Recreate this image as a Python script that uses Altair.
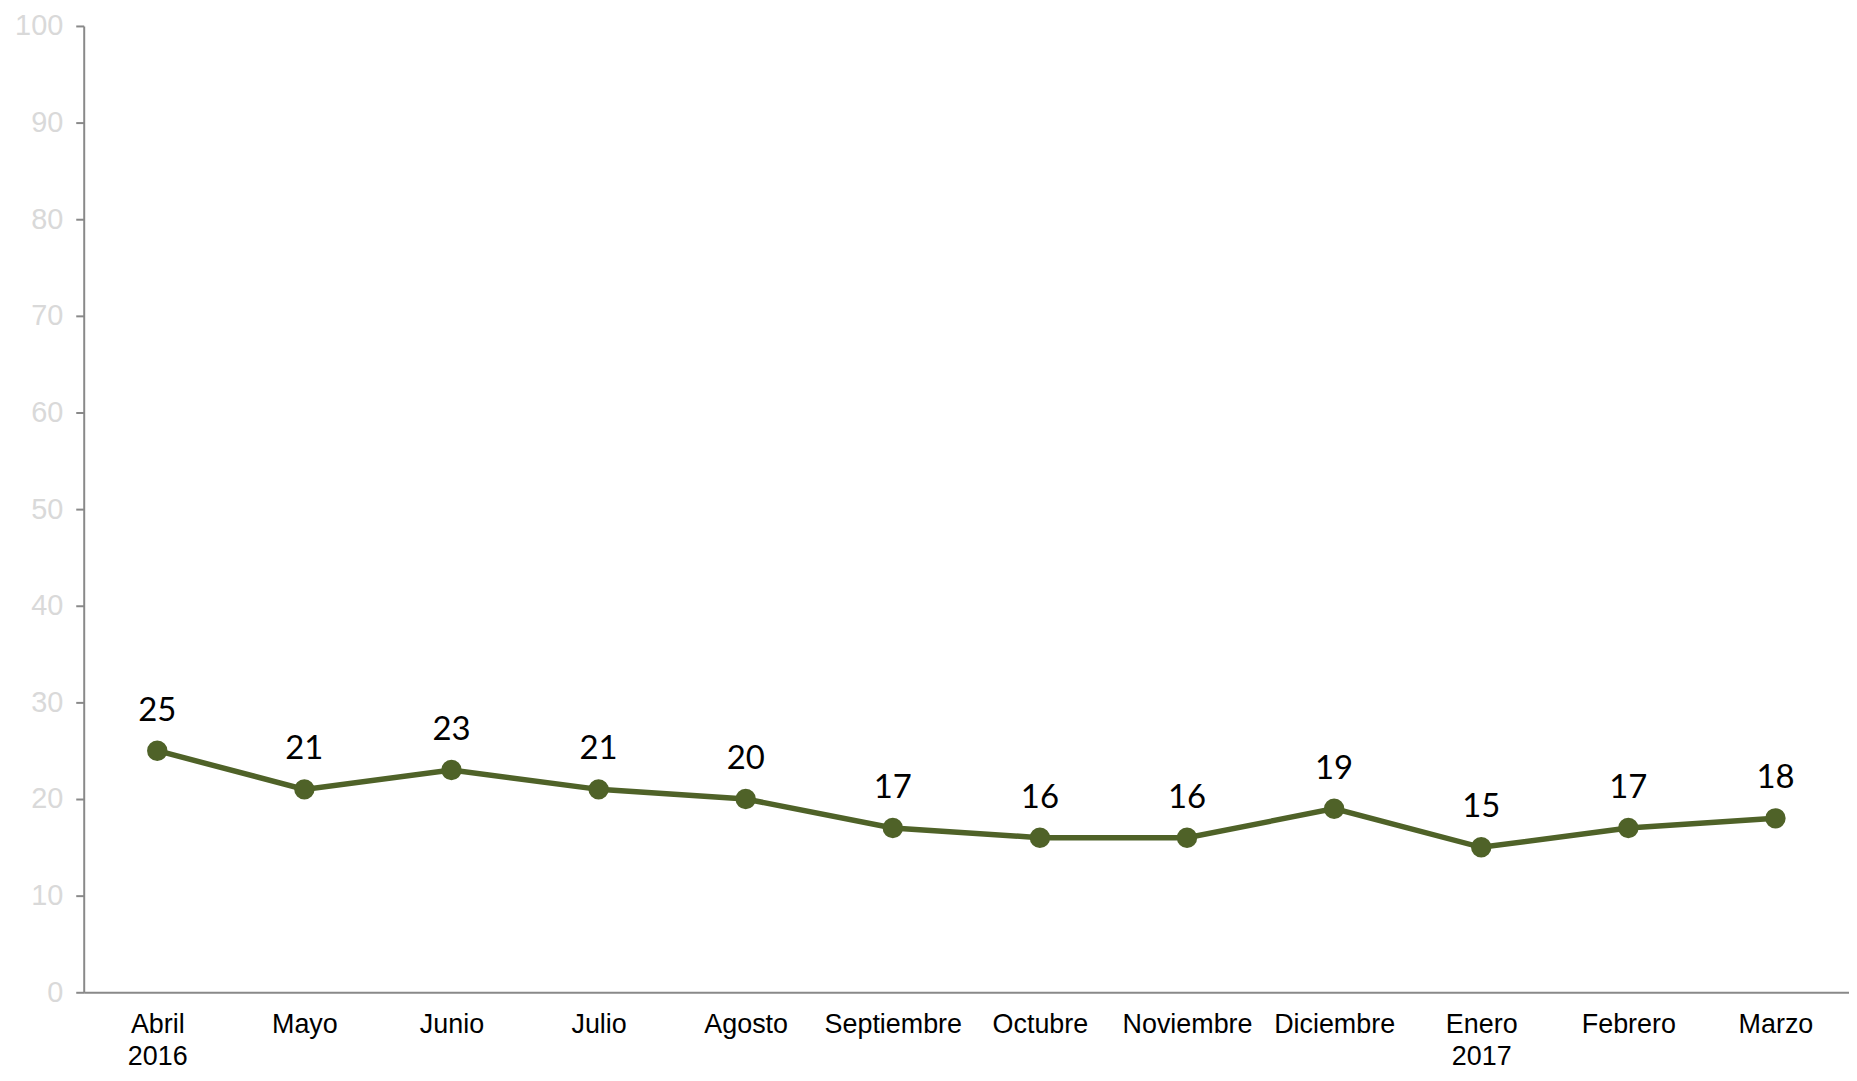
import altair as alt
import pandas as pd

months = ["Abril\n2016", "Mayo", "Junio", "Julio", "Agosto", "Septiembre",
          "Octubre", "Noviembre", "Diciembre", "Enero\n2017", "Febrero", "Marzo"]
values = [25, 21, 23, 21, 20, 17, 16, 16, 19, 15, 17, 18]
y_ticks = list(range(0, 101, 10))

df = pd.DataFrame({"mes": months, "valor": values})

color = "#4f6228"

x_enc = alt.X("mes:N", sort=months,
              scale=alt.Scale(type="point", padding=0.5),
              axis=alt.Axis(title=None, labelAngle=0, ticks=False, domainColor="#898989",
                            domainWidth=2, labelColor="#000000", labelFont="Liberation Sans",
                            labelFontSize=27, labelPadding=19, labelLineHeight=32,
                            labelExpr="split(datum.label, '\\n')", grid=False))
y_enc = alt.Y("valor:Q", scale=alt.Scale(domain=[0, 100], nice=False),
              axis=alt.Axis(title=None, values=y_ticks, grid=False, domainColor="#898989",
                            domainWidth=2, tickColor="#898989", tickWidth=2, tickSize=8,
                            labelColor="#d9d9d9", labelFont="Liberation Sans",
                            labelFontSize=29, labelPadding=13))

base = alt.Chart(df).encode(x=x_enc, y=y_enc)

line = base.mark_line(color=color, strokeWidth=5.5)
points = base.mark_point(filled=True, color=color, size=420, opacity=1)
labels = base.mark_text(dy=-40, fontSize=33, font="Lato", color="#000000").encode(
    text="valor:Q")

chart = (line + points + labels).properties(
    width=1772, height=970,
    padding={"left": 76, "top": 16, "right": 0, "bottom": 79},
    autosize=alt.AutoSizeParams(type="none"),
).configure_view(stroke=None)

chart.save("out.html", embed_options={"renderer": "svg", "actions": False})
